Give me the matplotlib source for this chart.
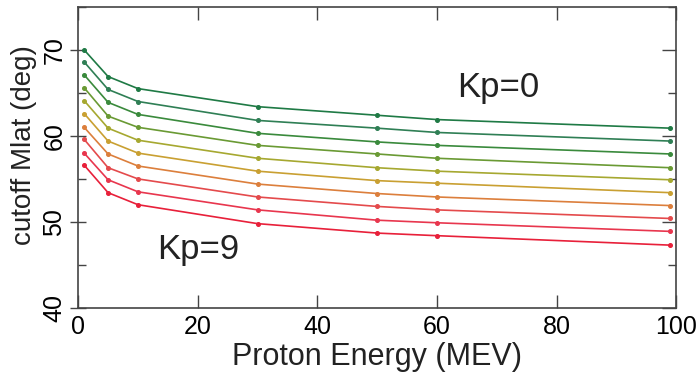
import numpy as np
import matplotlib.pyplot as plt
from matplotlib.ticker import MultipleLocator

plt.rcParams['font.family'] = ['Liberation Sans', 'DejaVu Sans']

# proton energies (MeV) where the cutoff was computed
energy = [1, 5, 10, 30, 50, 60, 99]

# cutoff magnetic latitude (deg) for Kp = 0 ... 9
kp0 = [70.0, 66.9, 65.5, 63.4, 62.4, 61.9, 60.9]
kp1 = [68.6, 65.4, 64.0, 61.8, 60.9, 60.4, 59.4]
kp2 = [67.1, 63.9, 62.5, 60.3, 59.3, 58.9, 57.9]
kp3 = [65.6, 62.3, 61.0, 58.9, 57.9, 57.4, 56.3]
kp4 = [64.1, 60.9, 59.5, 57.4, 56.3, 55.9, 54.9]
kp5 = [62.6, 59.4, 58.0, 55.9, 54.8, 54.5, 53.4]
kp6 = [61.0, 57.9, 56.5, 54.4, 53.3, 52.9, 51.9]
kp7 = [59.6, 56.3, 55.0, 52.9, 51.8, 51.4, 50.4]
kp8 = [58.0, 54.9, 53.5, 51.4, 50.2, 49.9, 48.9]
kp9 = [56.6, 53.4, 52.0, 49.8, 48.7, 48.4, 47.3]

curves = [kp0, kp1, kp2, kp3, kp4, kp5, kp6, kp7, kp8, kp9]
colors = ['#1f7a45', '#2f7f55', '#3a8a3c', '#6a9a34', '#a6a830',
          '#c9a032', '#dc7f3c', '#e44a4c', '#e8364e', '#e8203a']

fig = plt.figure(figsize=(6.98, 3.83), dpi=100)
ax = fig.add_axes([0.112, 0.196, 0.857, 0.786])

for vals, c in zip(curves, colors):
    ax.plot(energy, vals, color=c, lw=1.2, marker='o', ms=2.6, mec=c, mfc=c)

ax.set_xlim(0, 100)
ax.set_ylim(40, 75)
ax.set_xticks([0, 20, 40, 60, 80, 100])
ax.set_yticks([40, 50, 60, 70])
ax.yaxis.set_minor_locator(MultipleLocator(5))

ax.tick_params(axis='x', which='major', direction='in', top=True, length=9.5,
               width=1.0, labelsize=18, pad=5, color='#444444')
ax.tick_params(axis='y', which='major', direction='inout', length=11,
               width=1.0, labelsize=18, pad=3, color='#444444')
ax.tick_params(axis='y', which='minor', direction='in', length=5.5,
               width=1.0, color='#444444')
# right side ticks point inward
ax2 = ax.secondary_yaxis('right')
ax2.set_yticks([40, 50, 60, 70])
ax2.yaxis.set_minor_locator(MultipleLocator(5))
ax2.tick_params(which='major', direction='in', length=10, width=1.0,
                labelright=False, color='#444444')
ax2.tick_params(which='minor', direction='in', length=5.5, width=1.0,
                color='#444444')
ax2.spines['right'].set_visible(False)

for lbl in ax.get_yticklabels():
    lbl.set_rotation(90)
    lbl.set_va('center')

for s in ax.spines.values():
    s.set_color('#444444')
    s.set_linewidth(1.2)

ax.set_xlabel('Proton Energy (MEV)', fontsize=22, labelpad=2, color='#222222')
ax.set_ylabel('cutoff Mlat (deg)', fontsize=20, color='#222222')
ax.yaxis.set_label_coords(-0.068, 0.54)

ax.text(70.2, 65.6, 'Kp=0', fontsize=25, ha='center', va='center', color='#222222')
ax.text(20.1, 46.8, 'Kp=9', fontsize=25, ha='center', va='center', color='#222222')

fig.savefig('out.png', dpi=100)
